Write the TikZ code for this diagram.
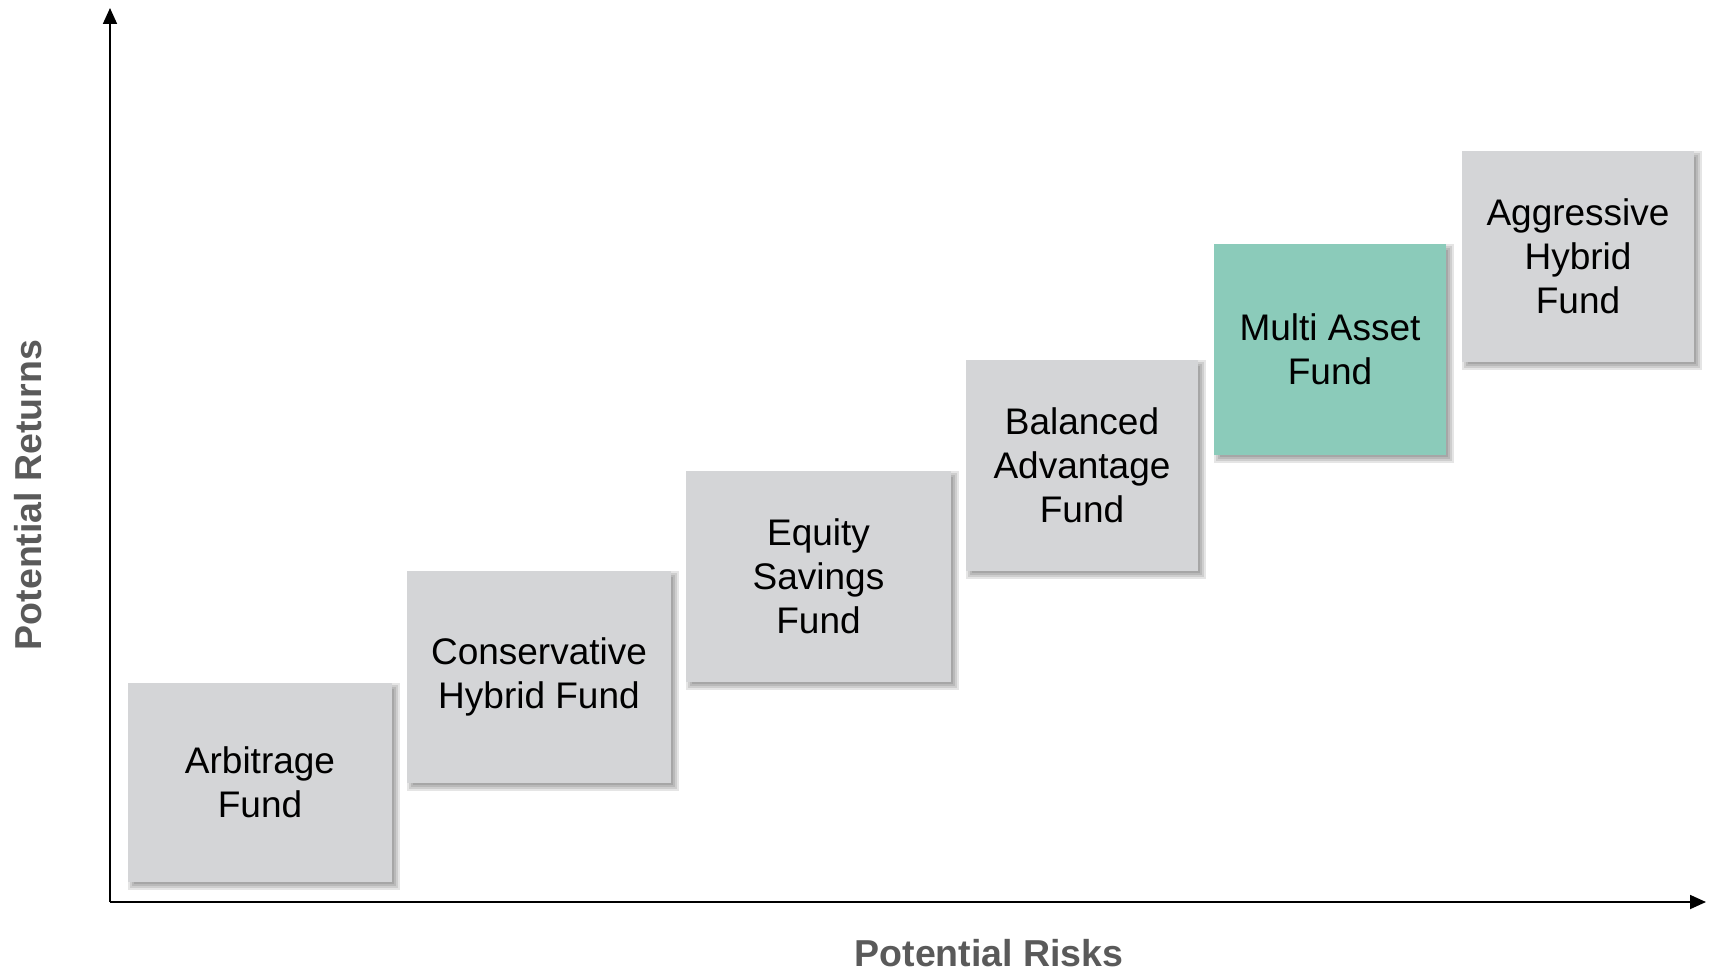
\documentclass[tikz,border=0pt]{standalone}
\usepackage{fontspec}
\setmainfont{Liberation Sans}
\usetikzlibrary{arrows.meta,backgrounds}
\definecolor{boxgray}{HTML}{D4D5D7}
\definecolor{fundteal}{HTML}{8BCBBA}
\definecolor{labelgray}{HTML}{5A5A5A}
\newcommand\fundshadow[1]{%
  \foreach \r in {-2,0,2,4}{%
    \fill[black,opacity=0.1] ([shift={({4-\r},{4+\r})}]#1.south west) rectangle ([shift={({4+\r},{4-\r})}]#1.north east);
  }%
}
\begin{document}
\begin{tikzpicture}[x=1pt,y=-1pt,
  fund/.style={fill=boxgray, inner sep=0pt, align=center, text=black,
    font=\fontsize{37}{44}\selectfont},
  axislabel/.style={text=labelgray, inner sep=0pt,
    font=\fontsize{37.5}{44}\selectfont\bfseries},
  axisline/.style={line width=1.8pt, draw=black, -{Triangle[length=16pt,width=14pt]}}]
\useasboundingbox (0,0) rectangle (1710,971);

% axes
\coordinate (o) at (110,902);
\coordinate (ytop) at (110,8);
\coordinate (xend) at (1706,902);
\draw[axisline] (o) -- (ytop);
\draw[axisline] (o) -- (xend);

% boxes
\node[fund, minimum width=264pt, minimum height=199pt] (arb) at (260,782.5) {Arbitrage\\Fund};
\node[fund, minimum width=264pt, minimum height=212pt] (cons) at (539,677) {Conservative\\Hybrid Fund};
\node[fund, minimum width=265pt, minimum height=211pt] (eq) at (818.5,576.5) {Equity\\Savings\\Fund};
\node[fund, minimum width=232pt, minimum height=211pt] (bal) at (1082,465.5) {Balanced\\Advantage\\Fund};
\node[fund, fill=fundteal, minimum width=232pt, minimum height=211pt] (multi) at (1330,349.5) {Multi Asset\\Fund};
\node[fund, minimum width=232pt, minimum height=211pt] (aggr) at (1578,256.5) {Aggressive\\Hybrid\\Fund};

\begin{pgfonlayer}{background}
  \fundshadow{arb}
  \fundshadow{cons}
  \fundshadow{eq}
  \fundshadow{bal}
  \fundshadow{multi}
  \fundshadow{aggr}
\end{pgfonlayer}

% axis labels
\node[axislabel, anchor=base] (xl) at (989,966) {Potential Risks};
\node[axislabel, rotate=90, anchor=base] (yl) at (41,495) {Potential Returns};
\end{tikzpicture}
\end{document}
